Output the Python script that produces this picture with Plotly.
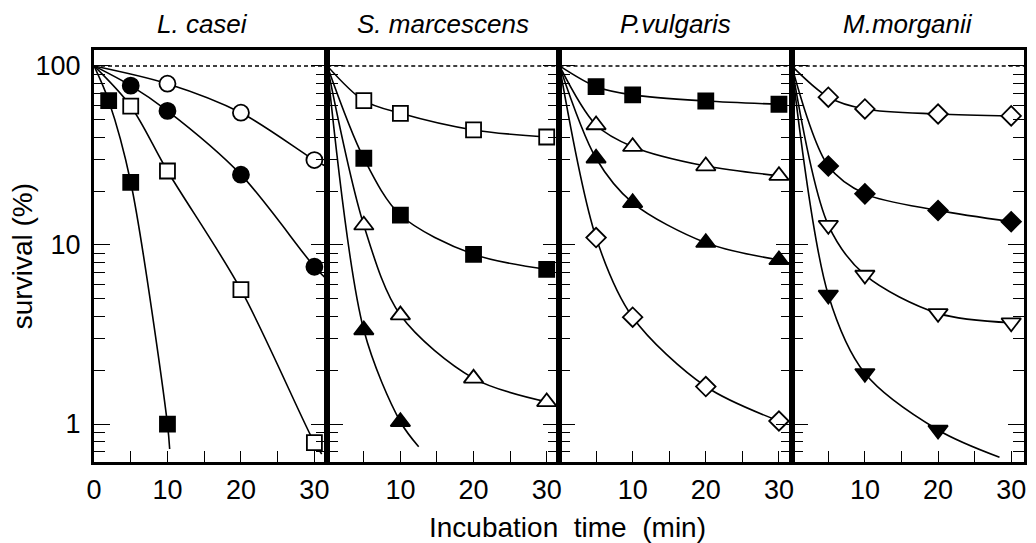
import plotly.graph_objects as go

# ---------------- data ----------------
panel_titles = ["L. casei", "S. marcescens", "P.vulgaris", "M.morganii"]
x_tick_vals = [0, 5, 10, 15, 20, 25, 30]
x_tick_text_first = ["0", "", "10", "", "20", "", "30"]
x_tick_text_other = ["", "", "10", "", "20", "", "30"]
y_major_vals = [1, 10, 100]
y_minor_vals = [0.7, 0.8, 0.9, 2, 3, 4, 5, 6, 7, 8, 9, 20, 30, 40, 50, 60, 70, 80, 90]
start_t, start_v = 0, 100

# Panel 1: L. casei
lc_fsq_t = [2, 5, 10];        lc_fsq_v = [64, 22.4, 1.0];        lc_fsq_end = (10.3, 0.725)
lc_osq_t = [5, 10, 20, 30];   lc_osq_v = [59.6, 25.9, 5.63, 0.787]; lc_osq_end = (31.0, 0.68)
lc_fci_t = [5, 10, 20, 30];   lc_fci_v = [77.6, 56.1, 24.7, 7.56]; lc_fci_end = (31.7, 6.43)
lc_oci_t = [10, 20, 30];      lc_oci_v = [79.6, 54.8, 29.8];     lc_oci_end = (31.5, 27.6)

# Panel 2: S. marcescens
sm_osq_t = [5, 10, 20, 30];   sm_osq_v = [64, 54.4, 43.9, 40.1]
sm_fsq_t = [5, 10, 20, 30];   sm_fsq_v = [30.5, 14.7, 8.87, 7.31]
sm_otr_t = [5, 10, 20, 30];   sm_otr_v = [12.9, 4.06, 1.80, 1.33]
sm_ftr_t = [5, 10];           sm_ftr_v = [3.35, 1.03];           sm_ftr_end = (12.5, 0.747)

# Panel 3: P. vulgaris
pv_fsq_t = [5, 10, 20, 30];   pv_fsq_v = [76.6, 68.9, 63.7, 61.1]
pv_otr_t = [5, 10, 20, 30];   pv_otr_v = [46.8, 35.4, 27.6, 24.4]
pv_ftr_t = [5, 10, 20, 30];   pv_ftr_v = [30.5, 17.2, 10.3, 8.25]
pv_odi_t = [5, 10, 20, 30];   pv_odi_v = [11.0, 3.95, 1.62, 1.04]

# Panel 4: M. morganii
mm_odi_t = [5, 10, 20, 30];   mm_odi_v = [66.9, 57.5, 53.9, 52.6]
mm_fdi_t = [5, 10, 20, 30];   mm_fdi_v = [27.6, 19.3, 15.6, 13.5]
mm_otd_t = [5, 10, 20, 30];   mm_otd_v = [12.9, 6.80, 4.15, 3.68]
mm_ftd_t = [5, 10, 20];       mm_ftd_v = [5.26, 1.92, 0.926];    mm_ftd_end = (28.4, 0.652)

# (panel, times, values, curve end or None, symbol, filled)
series = [
    (1, lc_fsq_t, lc_fsq_v, lc_fsq_end, "square", True),
    (1, lc_osq_t, lc_osq_v, lc_osq_end, "square", False),
    (1, lc_fci_t, lc_fci_v, lc_fci_end, "circle", True),
    (1, lc_oci_t, lc_oci_v, lc_oci_end, "circle", False),
    (2, sm_osq_t, sm_osq_v, None, "square", False),
    (2, sm_fsq_t, sm_fsq_v, None, "square", True),
    (2, sm_otr_t, sm_otr_v, None, "triangle-up", False),
    (2, sm_ftr_t, sm_ftr_v, sm_ftr_end, "triangle-up", True),
    (3, pv_fsq_t, pv_fsq_v, None, "square", True),
    (3, pv_otr_t, pv_otr_v, None, "triangle-up", False),
    (3, pv_ftr_t, pv_ftr_v, None, "triangle-up", True),
    (3, pv_odi_t, pv_odi_v, None, "diamond", False),
    (4, mm_odi_t, mm_odi_v, None, "diamond", False),
    (4, mm_fdi_t, mm_fdi_v, None, "diamond", True),
    (4, mm_otd_t, mm_otd_v, None, "triangle-down", False),
    (4, mm_ftd_t, mm_ftd_v, mm_ftd_end, "triangle-down", True),
]

# ---------------- styling ----------------
FONT = "Liberation Sans, Arial, Helvetica, sans-serif"
W, H = 1036, 543
plot_left, plot_right, plot_top, plot_bottom = 94, 1027, 50, 462   # page pixels
ML = plot_left
MT = plot_top
MR = W - plot_right
MB = H - plot_bottom
PW = W - ML - MR
PH = H - MT - MB
panel_edges = [94, 328, 561, 794, 1027]
x_range = [0, 31.75]
y_range = [-0.212, 2.089]
sym_size = {"square": 15, "circle": 16, "triangle-up": 17, "triangle-down": 17, "diamond": 15}


def px_x(px):
    return (px - plot_left) / PW


def px_y(py):
    return (plot_bottom - py) / PH


fig = go.Figure()

for panel, ts, vs, end, sym, filled in series:
    suffix = "" if panel == 1 else str(panel)
    xa, ya = "x" + suffix, "y" + suffix
    lx = [start_t] + list(ts)
    ly = [start_v] + list(vs)
    if end is not None:
        lx.append(end[0])
        ly.append(end[1])
    fig.add_trace(go.Scatter(
        x=lx, y=ly, mode="lines", xaxis=xa, yaxis=ya,
        line=dict(color="black", width=1.6, shape="spline", smoothing=0.9),
        showlegend=False, hoverinfo="skip"))
    fig.add_trace(go.Scatter(
        x=ts, y=vs, mode="markers", xaxis=xa, yaxis=ya,
        marker=dict(symbol=sym, size=sym_size[sym],
                    color="black" if filled else "white",
                    line=dict(color="black", width=1.8)),
        showlegend=False, cliponaxis=False))

# dashed 100% reference line in each panel
for p in range(1, 5):
    suffix = "" if p == 1 else str(p)
    fig.add_trace(go.Scatter(
        x=x_range, y=[start_v, start_v], mode="lines",
        xaxis="x" + suffix, yaxis="y" + suffix,
        line=dict(color="black", width=1.4, dash="4px,3px"),
        showlegend=False, hoverinfo="skip"))

layout = dict(
    width=W, height=H,
    margin=dict(l=ML, r=MR, t=MT, b=MB, pad=0),
    plot_bgcolor="white", paper_bgcolor="white",
    font=dict(family=FONT, color="black", size=27),
    showlegend=False,
)

for p in range(1, 5):
    suffix = "" if p == 1 else str(p)
    layout["xaxis" + suffix] = dict(
        domain=[px_x(panel_edges[p - 1]), px_x(panel_edges[p])],
        range=x_range, anchor="y" + suffix,
        showline=True, linecolor="black", linewidth=3, mirror=True,
        ticks="inside", ticklen=11, tickwidth=1.3, tickcolor="black",
        tickvals=x_tick_vals,
        ticktext=x_tick_text_first if p == 1 else x_tick_text_other,
        tickfont=dict(size=27, family=FONT), ticklabelstandoff=2,
        showgrid=False, zeroline=False, fixedrange=True,
    )
    layout["yaxis" + suffix] = dict(
        type="log", range=y_range, anchor="x" + suffix, domain=[0, 1],
        showline=True, linecolor="black", linewidth=3, mirror="ticks",
        ticks="inside", ticklen=16, tickwidth=1.3, tickcolor="black",
        tickvals=y_major_vals, ticktext=[str(v) for v in y_major_vals],
        showticklabels=(p == 1), ticklabelstandoff=5,
        tickfont=dict(size=27, family=FONT),
        minor=dict(tickvals=y_minor_vals, ticks="inside", ticklen=11,
                   tickwidth=1.3, tickcolor="black", showgrid=False),
        showgrid=False, zeroline=False, fixedrange=True,
    )

title_centers = [203, 444, 677, 911]
annotations = []
for name, cx in zip(panel_titles, title_centers):
    annotations.append(dict(
        text="<i>" + name + "</i>", xref="paper", yref="paper",
        x=px_x(cx), y=px_y(24),
        xanchor="center", yanchor="middle", showarrow=False,
        font=dict(size=26, family=FONT)))
annotations.append(dict(
    text="Incubation\u00a0 time\u00a0 (min)", xref="paper", yref="paper",
    x=px_x(569), y=px_y(527),
    xanchor="center", yanchor="middle", showarrow=False,
    font=dict(size=28, family=FONT)))
annotations.append(dict(
    text="survival (%)", xref="paper", yref="paper",
    x=px_x(22), y=px_y(256), textangle=-90,
    xanchor="center", yanchor="middle", showarrow=False,
    font=dict(size=28, family=FONT)))
layout["annotations"] = annotations

fig.update_layout(**layout)
fig.write_html("out.html", config={"displayModeBar": False},
               post_script="document.body.style.margin='0';")
